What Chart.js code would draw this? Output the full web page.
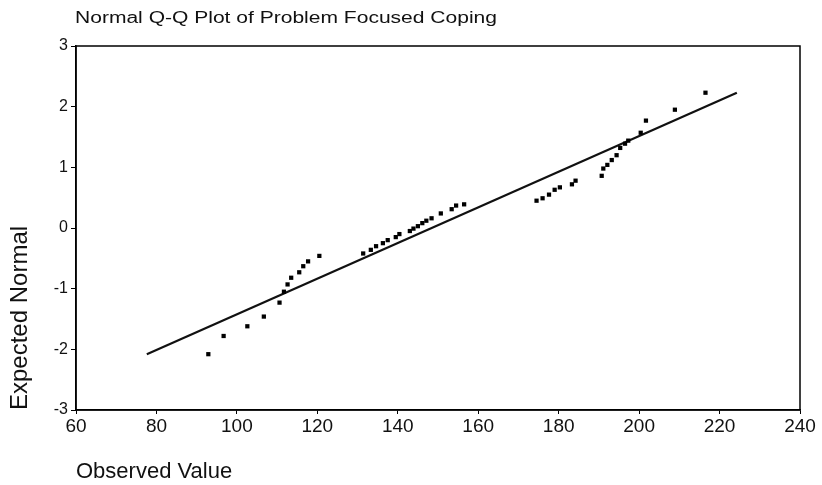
<!DOCTYPE html>
<html>
<head>
<meta charset="utf-8">
<script src="https://cdn.jsdelivr.net/npm/chart.js@4/dist/chart.umd.min.js"></script>
<style>
  body { margin: 0; background: #fff; }
  canvas { display: block; }
</style>
</head>
<body>
<canvas id="qq" width="822" height="485"></canvas>
<script>
var chartTitle = "Normal Q-Q Plot of Problem Focused Coping";
var observed = [92.9, 96.7, 102.6, 106.7, 110.6, 111.7, 112.6, 113.5, 115.5, 116.5, 117.7, 120.5,
	131.4, 133.3, 134.6, 136.3, 137.5, 139.5, 140.4, 143.0, 143.9, 145.0, 146.1, 147.1, 148.4,
	150.7, 153.4, 154.5, 156.5, 174.5, 176.0, 177.6, 179.0, 180.3, 183.3, 184.2, 190.7, 191.1,
	192.1, 193.2, 194.4, 195.3, 196.5, 197.3, 200.4, 201.7, 208.9, 216.5];
var expected = [-2.08, -1.78, -1.62, -1.46, -1.23, -1.05, -0.93, -0.82, -0.73, -0.63, -0.55, -0.46,
	-0.42, -0.36, -0.30, -0.25, -0.20, -0.15, -0.10, -0.05, -0.01, 0.03, 0.08, 0.12, 0.16,
	0.24, 0.31, 0.37, 0.39, 0.45, 0.49, 0.55, 0.63, 0.67, 0.72, 0.78, 0.86, 0.98,
	1.04, 1.12, 1.20, 1.32, 1.39, 1.44, 1.57, 1.77, 1.95, 2.23];
// reference line ends
var lineX = [77.6, 224.3];
var lineY = [-2.08, 2.23];
var xTicks = [60, 80, 100, 120, 140, 160, 180, 200, 220, 240];
var yTicks = [-3, -2, -1, 0, 1, 2, 3];

var points = observed.map(function (v, i) { return { x: v, y: expected[i] }; });
var linePts = lineX.map(function (v, i) { return { x: v, y: lineY[i] }; });

// box round the plot + title, stretched a bit wide like the scan
var framePlugin = {
	id: 'frame',
	afterDraw: function (chart) {
		var c = chart.ctx, a = chart.chartArea;
		c.save();
		c.strokeStyle = '#000';
		c.lineWidth = 1.5;
		c.strokeRect(a.left, a.top, a.right - a.left, a.bottom - a.top);
		c.fillStyle = '#111';
		c.font = '16px Arial, "Liberation Sans", sans-serif';
		c.textBaseline = 'middle';
		var w = c.measureText(chartTitle).width;
		c.translate(75, 19);
		c.scale(422 / w, 1);
		c.fillText(chartTitle, 0, 0);
		c.restore();
	}
};

var ctx = document.getElementById("qq");

var qqChart = new Chart(ctx, {
	type: 'scatter',
	data: {
		datasets: [{
			data: points,
			pointStyle: 'rect',
			pointRadius: 3,
			pointBackgroundColor: '#000',
			pointBorderWidth: 0
		}, {
			data: linePts,
			showLine: true,
			pointRadius: 0,
			borderColor: '#111',
			borderWidth: 2.2
		}]
	},
	options: {
		responsive: false,
		animation: false,
		layout: { padding: { top: 46, right: 22, left: 0, bottom: 0 } },
		plugins: {
			legend: { display: false },
			tooltip: { enabled: false }
		},
		scales: {
			x: {
				type: 'linear',
				min: 60,
				max: 240,
				afterBuildTicks: function (s) { s.ticks = xTicks.map(function (v) { return { value: v }; }); },
				afterFit: function (s) { s.height = 75; },
				ticks: { color: '#111', font: { size: 19, family: 'Arial, "Liberation Sans"' }, padding: 1, maxRotation: 0 },
				grid: { drawOnChartArea: false, color: '#000', tickLength: 4 },
				border: { color: '#000', width: 1.5 },
				title: {
					display: true,
					text: 'Observed Value',
					align: 'start',
					color: '#111',
					font: { size: 22, family: 'Arial, "Liberation Sans"' },
					padding: { top: 6, bottom: 0 }
				}
			},
			y: {
				type: 'linear',
				min: -3,
				max: 3,
				afterBuildTicks: function (s) { s.ticks = yTicks.map(function (v) { return { value: v }; }); },
				afterFit: function (s) { s.width = 76; },
				ticks: { color: '#111', font: { size: 16, family: 'Arial, "Liberation Sans"' }, padding: 3 },
				grid: { drawOnChartArea: false, color: '#000', tickLength: 5 },
				border: { color: '#000', width: 1.5 },
				title: {
					display: true,
					text: 'Expected Normal',
					align: 'start',
					color: '#111',
					font: { size: 24, family: 'Arial, "Liberation Sans"' },
					padding: { top: 6, bottom: 0 }
				}
			}
		}
	},
	plugins: [framePlugin]
});
</script>
</body>
</html>
